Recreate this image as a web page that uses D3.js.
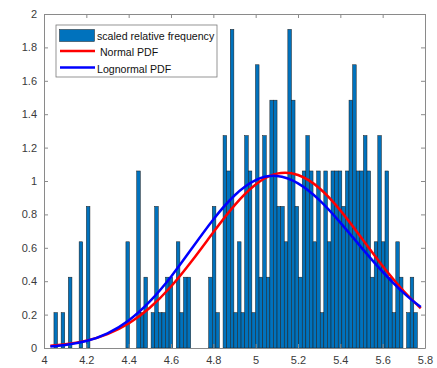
<!DOCTYPE html>
<html>
<head>
<meta charset="utf-8">
<script src="https://cdn.jsdelivr.net/npm/d3@7"></script>
<style>
  body { margin: 0; background: #fff; }
  text { font-family: "Liberation Sans", Arial, sans-serif; }
</style>
</head>
<body>
<div id="chart"></div>
<script>
// DATA

// histogram: 101 bins, first bin starts at bin_start, each bin_width wide
var bin_start = 4.047;
var bin_width = 0.017;
var bar_heights = [
  0.212, 0, 0.212, 0, 0.424, 0, 0, 0.636, 0, 0.848,
  0, 0, 0, 0, 0, 0, 0, 0, 0, 0,
  0.636, 0, 0, 1.06, 0.212, 0.424, 0, 0.212, 0.848, 0.212,
  0.212, 0.424, 0.424, 0, 0.636, 0.212, 0.424, 0.424, 0, 0,
  0, 0, 0, 0.424, 0.848, 0.212, 0, 1.272, 1.06, 1.908,
  0.212, 0.636, 0.212, 1.272, 1.06, 0.212, 1.696, 0.424, 1.272, 0.424,
  1.484, 1.484, 0.848, 0.848, 0.636, 1.908, 1.484, 0.848, 0.424, 1.06,
  1.272, 1.06, 0.636, 1.06, 0.212, 1.06, 0.636, 1.06, 1.06, 1.06,
  0.848, 1.06, 1.484, 1.696, 1.06, 1.06, 1.272, 1.06, 0.424, 0.636,
  1.272, 0.636, 1.06, 0.424, 0.212, 0.636, 0.424, 0, 0.212, 0.424,
  0.212
];

var curve_x = [4.03, 4.1, 4.2, 4.3, 4.4, 4.5, 4.6, 4.7, 4.8, 4.9, 5.0,
               5.1, 5.2, 5.3, 5.4, 5.5, 5.6, 5.7, 5.78];
var normal_pdf = [0.013, 0.022, 0.044, 0.083, 0.147, 0.241, 0.368, 0.524, 0.693, 0.854, 0.979,
                  1.044, 1.036, 0.958, 0.824, 0.659, 0.491, 0.340, 0.238];
var lognormal_pdf = [0.009, 0.018, 0.042, 0.088, 0.165, 0.279, 0.427, 0.599, 0.770, 0.913, 1.005,
                     1.030, 0.986, 0.887, 0.751, 0.601, 0.456, 0.329, 0.245];

var x_ticks = [4, 4.2, 4.4, 4.6, 4.8, 5, 5.2, 5.4, 5.6, 5.8];
var y_ticks = [0, 0.2, 0.4, 0.6, 0.8, 1, 1.2, 1.4, 1.6, 1.8, 2];

var legend_labels = ["scaled relative frequency", " Normal PDF", "Lognormal PDF"];

// RENDERING

var width = 437, height = 368;
var plot = {left: 44, right: 425, top: 14, bottom: 348};
var axis_color = "#8a8a8a";
var label_color = "#3a3a3a";

var svg = d3.select("#chart").append("svg")
  .attr("width", width)
  .attr("height", height);

var x = d3.scaleLinear().domain([4, 5.8]).range([plot.left, plot.right]);
var y = d3.scaleLinear().domain([0, 2]).range([plot.bottom, plot.top]);

// bars
var bins = bar_heights.map(function(h, i){
  return {x0: bin_start + i*bin_width, x1: bin_start + (i+1)*bin_width, h: h};
}).filter(function(d){ return d.h > 0; });

svg.append("g").selectAll("rect")
  .data(bins)
  .enter().append("rect")
    .attr("x", function(d){ return x(d.x0); })
    .attr("y", function(d){ return y(d.h); })
    .attr("width", function(d){ return x(d.x1) - x(d.x0); })
    .attr("height", function(d){ return y(0) - y(d.h); })
    .attr("fill", "#0072BD")
    .attr("stroke", "#1c1c1c")
    .attr("stroke-width", 0.5);

// pdf curves
var line = d3.line()
  .x(function(d){ return x(d[0]); })
  .y(function(d){ return y(d[1]); })
  .curve(d3.curveNatural);

svg.append("path")
  .datum(curve_x.map(function(v, i){ return [v, normal_pdf[i]]; }))
  .attr("d", line)
  .attr("fill", "none")
  .attr("stroke", "#ff0000")
  .attr("stroke-width", 2.5);

svg.append("path")
  .datum(curve_x.map(function(v, i){ return [v, lognormal_pdf[i]]; }))
  .attr("d", line)
  .attr("fill", "none")
  .attr("stroke", "#0000ff")
  .attr("stroke-width", 2.5);

// axes (matlab style box with inward ticks)
var tick_len = 4;

var x_axis_bottom = d3.axisBottom(x).tickValues(x_ticks).tickSizeInner(-tick_len).tickSizeOuter(0)
  .tickPadding(8).tickFormat(d3.format("~g"));
var x_axis_top = d3.axisTop(x).tickValues(x_ticks).tickSizeInner(-tick_len).tickSizeOuter(0)
  .tickFormat("");
var y_axis_left = d3.axisLeft(y).tickValues(y_ticks).tickSizeInner(-tick_len).tickSizeOuter(0)
  .tickPadding(7).tickFormat(d3.format("~g"));
var y_axis_right = d3.axisRight(y).tickValues(y_ticks).tickSizeInner(-tick_len).tickSizeOuter(0)
  .tickFormat("");

svg.append("g").attr("transform", "translate(0," + plot.bottom + ")").call(x_axis_bottom);
svg.append("g").attr("transform", "translate(0," + plot.top + ")").call(x_axis_top);
svg.append("g").attr("transform", "translate(" + plot.left + ",0)").call(y_axis_left);
svg.append("g").attr("transform", "translate(" + plot.right + ",0)").call(y_axis_right);

svg.selectAll(".domain").attr("stroke", axis_color);
svg.selectAll(".tick line").attr("stroke", axis_color);
svg.selectAll(".tick text")
  .attr("fill", label_color)
  .style("font-size", "11px")
  .style("font-family", "'Liberation Sans', Arial, sans-serif");

// legend
var legend = svg.append("g").attr("transform", "translate(56,25)");

legend.append("rect")
  .attr("x", 0).attr("y", 0)
  .attr("width", 161).attr("height", 52)
  .attr("fill", "#fff")
  .attr("stroke", "#7a7a7a")
  .attr("stroke-width", 0.8);

legend.append("rect")
  .attr("x", 3.5).attr("y", 4.5)
  .attr("width", 35).attr("height", 12)
  .attr("fill", "#0072BD")
  .attr("stroke", "#1c1c1c")
  .attr("stroke-width", 0.5);

legend.append("line")
  .attr("x1", 4).attr("x2", 39).attr("y1", 26).attr("y2", 26)
  .attr("stroke", "#ff0000").attr("stroke-width", 2.5);

legend.append("line")
  .attr("x1", 4).attr("x2", 39).attr("y1", 42.5).attr("y2", 42.5)
  .attr("stroke", "#0000ff").attr("stroke-width", 2.5);

legend.selectAll("text.lbl")
  .data(legend_labels)
  .enter().append("text")
    .attr("class", "lbl")
    .attr("x", 41)
    .attr("y", function(d, i){ return 14.5 + i*16.5; })
    .attr("fill", "#111")
    .style("font-size", "10.6px")
    .style("white-space", "pre")
    .attr("xml:space", "preserve")
    .text(function(d){ return d; });
</script>
</body>
</html>
